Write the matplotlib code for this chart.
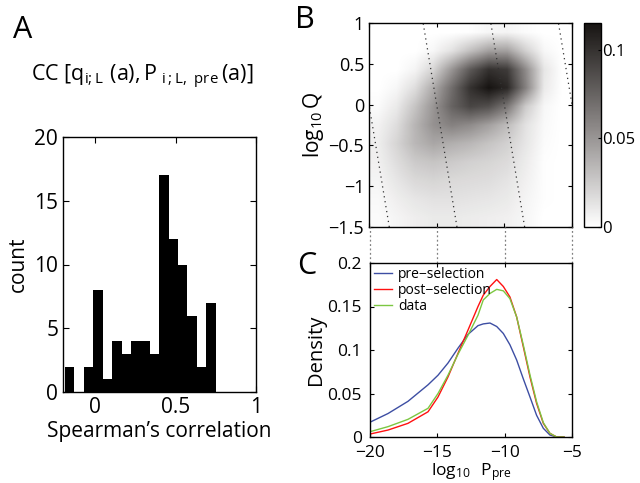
import numpy as np
import matplotlib
matplotlib.use('Agg')
import matplotlib.pyplot as plt
from matplotlib.colors import LinearSegmentedColormap
from matplotlib.transforms import blended_transform_factory

FONT = 'Open Sans'
plt.rcParams['font.family'] = [FONT, 'DejaVu Sans']
plt.rcParams['mathtext.fontset'] = 'custom'
plt.rcParams['mathtext.rm'] = FONT
plt.rcParams['mathtext.it'] = FONT
plt.rcParams['xtick.direction'] = 'in'
plt.rcParams['ytick.direction'] = 'in'
plt.rcParams['xtick.top'] = True
plt.rcParams['ytick.right'] = True
plt.rcParams['axes.linewidth'] = 1.0

# panel A: histogram of Spearman correlations
bin_lo = -0.187
bin_w = 0.0585
counts = [2, 0, 2, 8, 1, 4, 3, 4, 4, 3, 17, 12, 10, 6, 2, 7]

# panel B: density of (log10 Ppre, log10 Q), rows top (1) to bottom (-1.5)
heat_x = [-20, -5]
heat_y = [-1.5, 1]
heat = np.array([
    [0, 0, 0, 0, 0, 0.001, 0.004, 0.005, 0.002, 0, 0],
    [0, 0, 0, 0.004, 0.014, 0.03, 0.045, 0.045, 0.022, 0.004, 0],
    [0, 0, 0.005, 0.02, 0.05, 0.08, 0.1, 0.095, 0.055, 0.012, 0],
    [0, 0.004, 0.016, 0.04, 0.07, 0.1, 0.115, 0.105, 0.06, 0.01, 0],
    [0.002, 0.01, 0.028, 0.05, 0.075, 0.09, 0.085, 0.065, 0.025, 0.004, 0],
    [0.006, 0.016, 0.035, 0.052, 0.06, 0.055, 0.045, 0.032, 0.014, 0.003, 0],
    [0.008, 0.02, 0.034, 0.042, 0.038, 0.034, 0.028, 0.022, 0.012, 0.002, 0],
    [0.007, 0.016, 0.025, 0.028, 0.025, 0.022, 0.02, 0.017, 0.009, 0.001, 0],
    [0.005, 0.012, 0.018, 0.02, 0.018, 0.017, 0.016, 0.013, 0.007, 0.001, 0],
    [0.003, 0.008, 0.012, 0.014, 0.014, 0.013, 0.012, 0.01, 0.005, 0.001, 0],
    [0.002, 0.005, 0.008, 0.01, 0.01, 0.009, 0.008, 0.007, 0.004, 0, 0],
])
iso_lines = [-20, -15, -10, -5]

# panel C: densities
ppre = [-20, -18.66, -17.18, -15.69, -14.95, -14.21, -13.47, -12.72, -11.98, -11.59,
        -11.09, -10.59, -10.10, -9.61, -9.11, -8.62, -8.12, -7.63, -7.13, -6.64,
        -6.14, -5.6]
pre_sel = [0.017, 0.027, 0.041, 0.060, 0.071, 0.085, 0.102, 0.118, 0.128, 0.130,
           0.131, 0.127, 0.119, 0.106, 0.0885, 0.067, 0.046, 0.025, 0.010, 0.0023,
           0.0, 0.0]
post_sel = [0.0034, 0.008, 0.0157, 0.029, 0.046, 0.069, 0.096, 0.123, 0.150, 0.163,
            0.173, 0.181, 0.173, 0.161, 0.138, 0.104, 0.069, 0.0387, 0.0157, 0.0042,
            0.0, 0.0]
data = [0.0061, 0.0119, 0.0203, 0.033, 0.050, 0.071, 0.095, 0.117, 0.140, 0.1575,
        0.165, 0.1697, 0.168, 0.159, 0.138, 0.106, 0.0713, 0.0406, 0.0165, 0.0042,
        0.0, 0.0]

M = '\u2212'
W, H = 640, 483
fig = plt.figure(figsize=(6.4, 4.83), dpi=100)

def box(x0, y0, x1, y1):
    return [x0 / W, 1 - y1 / H, (x1 - x0) / W, (y1 - y0) / H]

# ---- A
axA = fig.add_axes(box(63, 137, 256, 392))
centres = [bin_lo + bin_w * (i + 0.5) for i in range(len(counts))]
axA.bar(centres, counts, width=bin_w, color='k', linewidth=0)
axA.set_xlim(-0.2, 1)
axA.set_ylim(0, 20)
axA.set_xticks([0, 0.5, 1])
axA.set_xticklabels(['0', '0.5', '1'])
axA.set_yticks([0, 5, 10, 15, 20])
axA.tick_params(labelsize=15, length=4)
axA.set_ylabel('count', fontsize=15, labelpad=4)
axA.set_xlabel('Spearman\u2019s correlation', fontsize=15, labelpad=2)

fig.text(13 / W, 1 - 30 / H, 'A', fontsize=22, va='center', ha='left')
fig.text(31 / W, 1 - 77 / H,
         r'CC $[\mathrm{q}_{\mathrm{i;L}}\ (\mathrm{a}),\mathrm{P}_{\ \mathrm{i\,;L,\ pre}}\,(\mathrm{a})]$',
         fontsize=15.5, va='center', ha='left')

# ---- B
axB = fig.add_axes(box(369, 23, 572, 227))
cmap = LinearSegmentedColormap.from_list('grey_map', ['#ffffff', '#8a8685', '#171412'])
im = axB.imshow(heat, extent=[heat_x[0], heat_x[1], heat_y[0], heat_y[1]],
                aspect='auto', cmap=cmap, vmin=0, vmax=0.115,
                interpolation='bilinear', origin='upper')
yy = np.array(heat_y)
for c in iso_lines:
    axB.plot(c - yy, yy, color='#333333', lw=0.9, linestyle=(0, (1, 3)))
axB.set_xlim(-20, -5)
axB.set_ylim(-1.5, 1)
axB.set_xticks(iso_lines)
axB.set_xticklabels([])
axB.set_yticks([-1.5, -1, -0.5, 0, 0.5, 1])
axB.set_yticklabels([M + '1.5', M + '1', M + '0.5', '0', '0.5', '1'])
axB.tick_params(labelsize=13, length=3)
axB.set_ylabel(r'$\mathrm{log}_{10}\,\mathrm{Q}$', fontsize=15, labelpad=2)
fig.text(295 / W, 1 - 20 / H, 'B', fontsize=22, va='center', ha='left')

cax = fig.add_axes(box(584, 23, 601, 227))
cb = fig.colorbar(im, cax=cax, ticks=[0, 0.05, 0.1])
cb.ax.set_yticklabels(['0', '0.05', '0.1'])
cb.ax.tick_params(labelsize=12, length=2, direction='in', pad=1)
cb.outline.set_linewidth(1.0)

# ---- C
axC = fig.add_axes(box(370, 263, 572, 437))
axC.plot(ppre, pre_sel, color='#3d4ea3', lw=1.0, label='pre\u2212selection')
axC.plot(ppre, post_sel, color='#ff1010', lw=1.0, label='post\u2212selection')
axC.plot(ppre, data, color='#7cc742', lw=1.0, label='data')
axC.set_xlim(-20, -5)
axC.set_ylim(0, 0.2)
axC.set_xticks(iso_lines)
axC.set_xticklabels([M + '20', M + '15', M + '10', M + '5'])
axC.set_yticks([0, 0.05, 0.1, 0.15, 0.2])
axC.set_yticklabels(['0', '0.05', '0.1', '0.15', '0.2'])
axC.tick_params(labelsize=12.5, length=3)
axC.tick_params(axis='x', pad=6)
axC.tick_params(axis='y', pad=6)
axC.set_ylabel('Density', fontsize=14.5, labelpad=1)
axC.set_xlabel(r'$\mathrm{log}_{10}\ \ \mathrm{P}_{\mathrm{pre}}$', fontsize=12.5, labelpad=0)
axC.legend(loc='upper left', frameon=False, fontsize=10, handlelength=1.3,
           handletextpad=0.4, labelspacing=0.05, borderaxespad=0.2, borderpad=0.1)
fig.text(297 / W, 1 - 266 / H, 'C', fontsize=22, va='center', ha='left')

# dotted connectors between B and C
tr = blended_transform_factory(axC.transData, axC.transAxes)
gap = 36 / 174
for c in iso_lines:
    axC.plot([c, c], [1, 1 + gap], transform=tr, clip_on=False,
             color='#808080', lw=0.9, linestyle=(0, (1.5, 2)))

fig.savefig('out.png', dpi=100)
